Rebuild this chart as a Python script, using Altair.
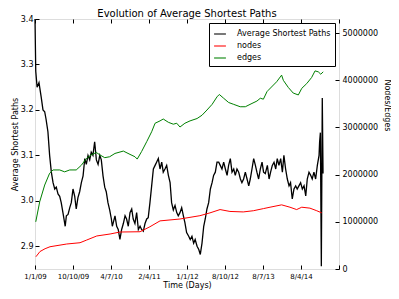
import altair as alt
import pandas as pd

FONT = "DejaVu Sans"

series_names = ["Average Shortest Paths", "nodes", "edges"]
series_colors = ["#000000", "#ff0000", "#008000"]

x_tick_values = [0, 200, 400, 600, 800, 1000, 1200, 1400, 1600]
x_tick_labels = ["1/1/09", "10/10/09", "4/7/10", "2/4/11", "1/1/12", "8/10/12", "8/7/13", "8/4/14", ""]
left_ticks = [2.9, 3.0, 3.1, 3.2, 3.3, 3.4]
right_ticks = [0, 1000000, 2000000, 3000000, 4000000, 5000000]

asp_day = [0, 4, 11, 21, 33, 42, 51, 58, 68, 77, 86, 95, 104, 112, 121, 130, 138, 147, 159, 165, 174,
           183, 191, 200, 209, 217, 226, 235, 244, 253, 262, 270, 279, 288, 296, 305, 314, 323, 332,
           341, 349, 358, 367, 375, 384, 393, 402, 407, 412, 421, 430, 438, 447, 456, 465, 474, 482,
           491, 500, 509, 517, 526, 535, 544, 553, 561, 570, 579, 588, 596, 605, 614, 623, 632, 640,
           649, 658, 667, 675, 684, 693, 702, 711, 719, 728, 737, 746, 754, 763, 772, 781, 789, 798,
           809, 817, 826, 835, 843, 853, 862, 870, 879, 888, 896, 905, 914, 923, 932, 940, 949, 958,
           967, 975, 984, 993, 1002, 1011, 1019, 1028, 1037, 1046, 1054, 1063, 1072, 1081, 1089, 1098,
           1107, 1116, 1125, 1133, 1142, 1151, 1160, 1168, 1177, 1186, 1195, 1203, 1212, 1223, 1232,
           1240, 1249, 1258, 1267, 1275, 1284, 1293, 1302, 1310, 1319, 1328, 1337, 1345, 1354, 1363,
           1372, 1380, 1389, 1398, 1407, 1416, 1425, 1433, 1442, 1451, 1459, 1468, 1477, 1486, 1495,
           1498, 1502, 1507, 1512, 1516]
asp_val = [3.4, 3.285, 3.25, 3.26, 3.227, 3.2, 3.196, 3.18, 3.152, 3.1, 3.063, 3.04, 3.026, 3.03, 3.015,
           3.01, 2.996, 2.974, 2.944, 2.967, 2.97, 2.985, 2.996, 3.026, 3.01, 2.982, 3.007, 3.02, 3.04,
           3.055, 3.093, 3.08, 3.1, 3.09, 3.107, 3.1, 3.13, 3.09, 3.08, 3.1, 3.09, 3.055, 3.03, 3.02,
           2.996, 2.98, 2.96, 2.944, 2.952, 2.967, 2.944, 2.937, 2.915, 2.937, 2.95, 2.967, 2.96, 2.944,
           2.974, 2.982, 2.96, 2.95, 2.974, 2.937, 2.944, 2.937, 2.933, 2.95, 2.96, 2.963, 2.996, 3.033,
           3.07, 3.078, 3.085, 3.093, 3.07, 3.085, 3.063, 3.07, 3.078, 3.056, 3.04, 2.996, 2.98, 2.99,
           2.974, 2.967, 2.974, 2.985, 2.967, 2.952, 2.93, 2.922, 2.915, 2.922, 2.907, 2.915, 2.9, 2.893,
           2.882, 2.907, 2.944, 2.96, 2.982, 2.996, 3.026, 3.04, 3.056, 3.063, 3.085, 3.085, 3.078, 3.07,
           3.085, 3.07, 3.056, 3.078, 3.093, 3.063, 3.07, 3.056, 3.07, 3.063, 3.048, 3.04, 3.048, 3.063,
           3.048, 3.033, 3.048, 3.07, 3.093, 3.078, 3.063, 3.048, 3.07, 3.085, 3.063, 3.06, 3.078, 3.048,
           3.063, 3.078, 3.085, 3.07, 3.093, 3.078, 3.093, 3.063, 3.1, 3.07, 3.048, 3.033, 3.04, 3.004,
           3.026, 3.033, 3.026, 3.033, 3.04, 3.026, 3.033, 3.011, 3.048, 3.063, 3.056, 3.048, 3.063,
           3.048, 3.078, 3.1, 3.13, 3.15, 2.856, 3.226, 3.06]

nodes_day = [5, 26, 53, 79, 167, 237, 272, 325, 395, 447, 553, 605, 658, 763, 868, 921, 974, 1026,
             1096, 1149, 1202, 1237, 1298, 1342, 1377, 1404, 1447, 1483, 1509]
nodes_val = [260000, 370000, 430000, 472000, 530000, 557000, 614000, 700000, 742000, 784000, 790000,
             896000, 1020000, 1060000, 1130000, 1190000, 1260000, 1220000, 1210000, 1235000, 1280000,
             1310000, 1360000, 1310000, 1260000, 1310000, 1290000, 1235000, 1190000]

edges_day = [4, 25, 51, 77, 95, 130, 156, 183, 217, 244, 270, 296, 323, 341, 367, 393, 421, 465, 500,
             526, 538, 561, 588, 614, 632, 658, 675, 702, 728, 746, 763, 789, 816, 853, 879, 905, 932,
             958, 970, 993, 1019, 1046, 1080, 1107, 1142, 1168, 1186, 1202, 1221, 1228, 1272, 1298,
             1307, 1333, 1359, 1386, 1404, 1430, 1456, 1474, 1491, 1504, 1517]
edges_val = [1000000, 1430000, 1780000, 2030000, 2100000, 2100000, 2060000, 2100000, 2100000, 2200000,
             2340000, 2420000, 2470000, 2420000, 2360000, 2380000, 2450000, 2500000, 2430000, 2380000,
             2330000, 2490000, 2700000, 2910000, 3090000, 3140000, 3180000, 3110000, 3070000, 3090000,
             3010000, 3090000, 3140000, 3190000, 3260000, 3370000, 3490000, 3650000, 3700000, 3620000,
             3530000, 3490000, 3440000, 3440000, 3510000, 3560000, 3620000, 3600000, 3760000, 3790000,
             3970000, 4110000, 4000000, 3850000, 3730000, 3690000, 3830000, 3930000, 4060000, 4200000,
             4180000, 4130000, 4180000]

df_asp = pd.DataFrame({"day": asp_day, "value": asp_val, "series": series_names[0]})
df_ne = pd.concat([
    pd.DataFrame({"day": nodes_day, "value": nodes_val, "series": series_names[1]}),
    pd.DataFrame({"day": edges_day, "value": edges_val, "series": series_names[2]}),
])

label_expr = "[" + ",".join("'%s'" % s for s in x_tick_labels) + "][round(datum.value / 200)]"

x_scale = alt.Scale(domain=[0, 1600], nice=False, zero=False)

color = alt.Color(
    "series:N",
    scale=alt.Scale(domain=series_names, range=series_colors),
    sort=series_names,
    legend=alt.Legend(
        title=None, orient="top-right", offset=4, fillColor="white", strokeColor="black",
        padding=4, labelFont=FONT, labelFontSize=8, labelColor="black",
        symbolType="stroke", symbolSize=140, symbolStrokeWidth=1.5, symbolOpacity=0.7,
        labelOffset=10, rowPadding=1, cornerRadius=0,
    ),
)

left = alt.Chart(df_asp).mark_line(strokeWidth=1.3).encode(
    x=alt.X("day:Q", scale=x_scale, axis=alt.Axis(
        orient="bottom", values=x_tick_values, labelExpr=label_expr, title="Time (Days)",
        grid=False, domain=False, tickSize={"expr": "-4"}, tickColor="black",
        labelFont=FONT, labelFontSize=7, labelColor="black", labelPadding=7,
        titleFont=FONT, titleFontSize=8, titleFontWeight="normal", titleColor="black", titlePadding=2,
        labelFlush=False,
    )),
    y=alt.Y("value:Q", scale=alt.Scale(domain=[2.85, 3.4], nice=False, zero=False), axis=alt.Axis(
        orient="left", values=left_ticks, format=".1f", title="Average Shortest Paths",
        grid=False, domain=False, tickSize={"expr": "-4"}, tickColor="black",
        labelFont=FONT, labelFontSize=8, labelColor="black", labelPadding=6,
        titleFont=FONT, titleFontSize=8, titleFontWeight="normal", titleColor="black", titlePadding=1,
    )),
    color=color,
)

right = alt.Chart(df_ne).mark_line(strokeWidth=1).encode(
    x=alt.X("day:Q", scale=x_scale, axis=alt.Axis(
        orient="top", values=x_tick_values, labels=False, title=None, grid=False, domain=False,
        tickSize={"expr": "-4"}, tickColor="black", minExtent=0, maxExtent=0,
    )),
    y=alt.Y("value:Q", scale=alt.Scale(domain=[0, 5300000], nice=False, zero=False), axis=alt.Axis(
        orient="right", values=right_ticks, format="d", title="Nodes/Edges",
        grid=False, domain=False, tickSize={"expr": "-4"}, tickColor="black",
        labelFont=FONT, labelFontSize=8, labelColor="black", labelPadding=7,
        titleFont=FONT, titleFontSize=8, titleFontWeight="normal", titleColor="black", titlePadding=5,
        titleY=86,
    )),
    color=color,
)

chart = alt.layer(left, right).resolve_scale(y="independent").resolve_axis(x="independent").properties(
    width=304, height=250,
    autosize=alt.AutoSizeParams(type="none"),
    padding={"left": 27, "top": 11, "right": 52, "bottom": 22},
    title=alt.TitleParams("Evolution of Average Shortest Paths", font=FONT, fontSize=10,
                          fontWeight="normal", color="black", anchor="middle", offset=-4),
).configure_view(stroke="black", strokeWidth=1).configure(background="white")

chart.save("out.html", embed_options={"renderer": "svg", "actions": False})
